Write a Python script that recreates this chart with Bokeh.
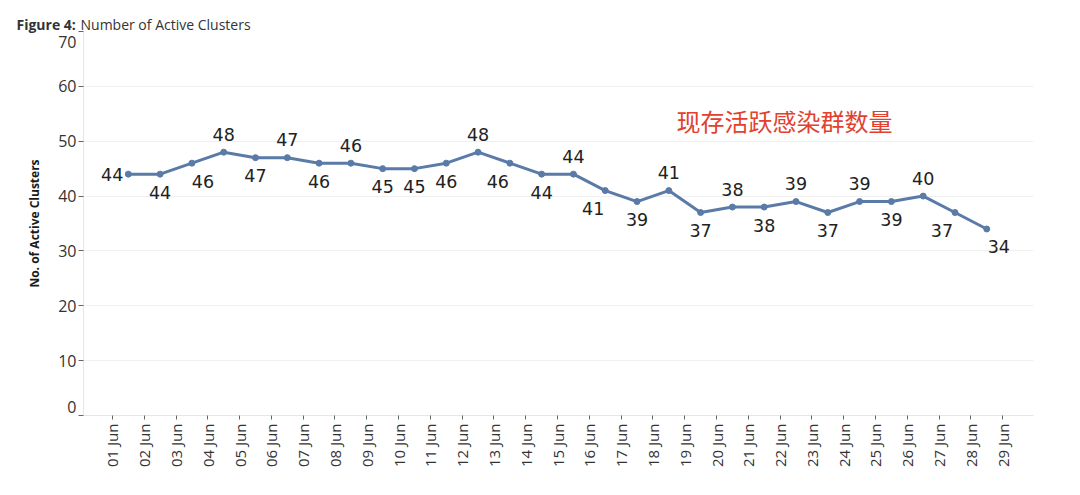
from bokeh.plotting import figure
from bokeh.models import ColumnDataSource, Label, FixedTicker, Range1d
from bokeh.core.properties import value
from bokeh.embed import file_html
from bokeh.resources import INLINE

# ---- data ----
tick_labels = ["01 Jun", "02 Jun", "03 Jun", "04 Jun", "05 Jun", "06 Jun", "07 Jun",
               "08 Jun", "09 Jun", "10 Jun", "11 Jun", "12 Jun", "13 Jun", "14 Jun",
               "15 Jun", "16 Jun", "17 Jun", "18 Jun", "19 Jun", "20 Jun", "21 Jun",
               "22 Jun", "23 Jun", "24 Jun", "25 Jun", "26 Jun", "27 Jun", "28 Jun",
               "29 Jun"]
clusters = [44, 44, 46, 48, 47, 47, 46, 46, 45, 45, 46, 48, 46, 44, 44,
            41, 39, 41, 37, 38, 38, 39, 37, 39, 39, 40, 37, 34]
y_ticks = [0, 10, 20, 30, 40, 50, 60, 70]

# label placement (style)
label_side = ["left", "below", "below", "above", "below", "above", "below", "above",
              "below", "below", "below", "above", "below", "below", "above", "below",
              "below", "above", "below", "above", "below", "above", "below", "above",
              "below", "above", "below", "below"]
label_shift = [0, 0, 11, 0, 0, 0, 0, 0, 0, 0, 0, 0, -12, 0, 0, -12, 0, 0, 0, 0,
               0, 0, 0, 0, 0, 0, -13, 12]

xs = [i + 0.5 for i in range(len(clusters))]
LINE = "#5a7aa7"
TXT = "#333333"

# layout (pixels)
W, H = 1072, 490
LEFT, RIGHT, TOP, BOTTOM = 83, 1033, 31, 415
X0, X1, Y0, Y1 = -0.91, 28.97, 0, 70
px_x = (RIGHT - LEFT) / (X1 - X0)
px_y = (BOTTOM - TOP) / (Y1 - Y0)

p = figure(width=W, height=H, output_backend="svg", toolbar_location=None,
           x_range=Range1d(X0, X1), y_range=Range1d(Y0, Y1),
           min_border_left=LEFT, min_border_right=W - RIGHT, min_border_top=TOP,
           min_border_bottom=H - BOTTOM)
p.outline_line_color = None
p.background_fill_color = "white"

p.line(xs, clusters, line_color=LINE, line_width=3)
p.scatter(xs, clusters, size=6, fill_color=LINE, line_color=LINE)

# data labels
cx, cy, ct, cxo, cyo = [], [], [], [], []
lx, ly, lt = [], [], []
for x, v, side, sh in zip(xs, clusters, label_side, label_shift):
    if side == "left":
        lx.append(x); ly.append(v); lt.append(str(v))
    else:
        cx.append(x); cy.append(v); ct.append(str(v))
        cxo.append(sh); cyo.append(-18 if side == "above" else 18)

src_c = ColumnDataSource(dict(x=cx, y=cy, t=ct, xo=cxo, yo=cyo))
p.text(x="x", y="y", text="t", x_offset="xo", y_offset="yo", source=src_c,
       text_align="center", text_baseline="middle", text_color="#222222",
       text_font=value("DejaVu Sans"), text_font_size="17.5px")
src_l = ColumnDataSource(dict(x=lx, y=ly, t=lt))
p.text(x="x", y="y", text="t", x_offset=-5, source=src_l,
       text_align="right", text_baseline="middle", text_color="#222222",
       text_font=value("DejaVu Sans"), text_font_size="17.5px")

# axes
p.xaxis.ticker = FixedTicker(ticks=list(range(len(tick_labels))))
p.xaxis.major_label_overrides = {i: s for i, s in enumerate(tick_labels)}
p.xaxis.major_label_orientation = 1.5707963
p.xaxis.major_label_text_font = "Open Sans"
p.xaxis.major_label_text_font_size = "15px"
p.xaxis.major_label_text_color = TXT
p.xaxis.major_label_standoff = 4
p.xaxis.major_tick_in = 0
p.xaxis.major_tick_out = 4
p.xaxis.major_tick_line_color = "#666666"
p.xaxis.minor_tick_line_color = None
p.xaxis.axis_line_color = "#e6e6e6"

p.yaxis.ticker = FixedTicker(ticks=y_ticks)
p.yaxis.major_label_overrides = {0: " ", 70: " "}
p.yaxis.major_label_text_font = "Open Sans"
p.yaxis.major_label_text_font_size = "16px"
p.yaxis.major_label_text_color = TXT
p.yaxis.major_label_standoff = 2
p.yaxis.major_tick_in = 0
p.yaxis.major_tick_out = 5
p.yaxis.major_tick_line_color = "#666666"
p.yaxis.minor_tick_line_color = None
p.yaxis.axis_line_color = "#e6e6e6"
p.yaxis.axis_label = "No. of Active Clusters"
p.yaxis.axis_label_text_font = "Open Sans"
p.yaxis.axis_label_text_font_style = "bold"
p.yaxis.axis_label_text_font_size = "12px"
p.yaxis.axis_label_text_color = "#1a1a1a"
p.yaxis.axis_label_standoff = 12

p.xgrid.grid_line_color = None
p.ygrid.grid_line_color = "#f0f0f0"

# annotation
p.add_layout(Label(x=17.74, y=53.8, text="现存活跃感染群数量", text_align="left",
                   text_baseline="middle", text_font="Noto Sans CJK SC",
                   text_font_size="24px", text_color="#e2412f"))

# title (labels in side panels so they are not clipped to the frame)
title_y = Y1 + (TOP - 24) / px_y
p.add_layout(Label(x=X0 + (16 - LEFT) / px_x, y=title_y, text="Figure 4:",
                   text_font="Open Sans", text_font_style="bold", text_font_size="14px",
                   text_color=TXT, text_baseline="alphabetic"), "above")
p.add_layout(Label(x=X0 + (80 - LEFT) / px_x, y=title_y, text="Number of Active Clusters",
                   text_font="Open Sans", text_font_size="14px",
                   text_color=TXT, text_baseline="alphabetic"), "below")

# end labels of the y axis, pulled inward
p.add_layout(Label(x=76 - RIGHT, y=BOTTOM - TOP - 10, x_units="screen", y_units="screen",
                   text="70", text_align="right", text_baseline="middle",
                   text_font="Open Sans", text_font_size="16px", text_color=TXT), "right")
p.add_layout(Label(x=76 - RIGHT - 18, y=9, x_units="screen", y_units="screen", text="0",
                   text_align="right", text_baseline="middle",
                   text_font="Open Sans", text_font_size="16px", text_color=TXT), "right")

open("out.html", "w").write(file_html(p, INLINE))
